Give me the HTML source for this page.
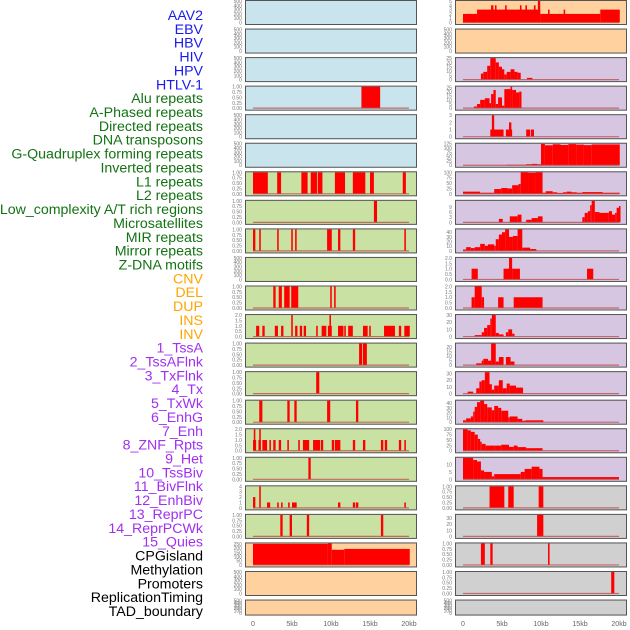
<!DOCTYPE html>
<html><head><meta charset="utf-8"><style>
html,body{margin:0;padding:0;background:#fff;}
svg{display:block;font-family:"Liberation Sans",sans-serif;}
</style></head><body>
<svg id="chart" width="630" height="630" viewBox="0 0 630 630"></svg>
<script>
const trackLabels = ["AAV2","EBV","HBV","HIV","HPV","HTLV-1","Alu repeats","A-Phased repeats","Directed repeats","DNA transposons","G-Quadruplex forming repeats","Inverted repeats","L1 repeats","L2 repeats","Low_complexity A/T rich regions","Microsatellites","MIR repeats","Mirror repeats","Z-DNA motifs","CNV","DEL","DUP","INS","INV","1_TssA","2_TssAFlnk","3_TxFlnk","4_Tx","5_TxWk","6_EnhG","7_Enh","8_ZNF_Rpts","9_Het","10_TssBiv","11_BivFlnk","12_EnhBiv","13_ReprPC","14_ReprPCWk","15_Quies","CPGisland","Methylation","Promoters","ReplicationTiming","TAD_boundary"];
const labelGroupSizes = [6,13,5,15,5];
const labelGroupColors = ["#1a1aee","#137313","#ffa500","#a030f0","#000000"];
const xTickKb = [0,5,10,15,20];
const xTickLabels = ["0","5kb","10kb","15kb","20kb"];
const E = [0,100,200,300,400,500];
const Q = [0,0.25,0.5,0.75,1];
const leftBg = ["b","b","b","b","b","b","g","g","g","g","g","g","g","g","g","g","g","g","g","o","o","o"];
const rightBg = ["o","o","p","p","p","p","p","p","p","p","p","p","p","p","p","p","p","k","k","k","k","k"];
const leftTicks = [E,E,E,Q,E,E,Q,Q,Q,E,Q,[0,0.5,1,1.5,2],Q,Q,Q,[0,0.5,1,1.5,2],Q,[0,1,2,3,4],Q,[0,50,100,150,200,250],E,E];
const leftMax = [500,500,500,1,500,500,1,1,1,500,1,2,1,1,1,2,1,4,1,255,500,500];
const leftSegs = [
 [],[],[],
 [[13.9,16.3,1]],
 [],[],
 [[0,1.9,1],[3.1,3.6,1],[6.2,7.0,1],[7.4,8.2,1],[8.3,8.9,1],[10.5,11.8,1],[12.8,14.4,1],[15.0,15.5,1],[19.2,19.6,1]],
 [[15.5,15.9,1]],
 [[0,0.3,1],[0.8,1.0,1],[3.1,3.3,1],[4.9,5.1,1],[5.4,5.6,1],[9.5,10.1,1],[10.9,11.2,1],[12.8,13.1,1],[19.4,19.6,1]],
 [],
 [[2.6,2.9,1],[3.3,3.7,1],[4.0,4.7,1],[4.9,5.8,1],[9.9,10.1,1],[10.4,10.6,1]],
 [[0.4,0.8,1],[1.2,1.5,1],[2.8,3.2,1],[3.6,3.9,1],[4.9,5.1,2],[5.4,5.7,1],[6.0,6.3,1],[6.5,6.8,1],[8.1,8.3,1],[8.8,9.4,1],[9.6,10.1,1],[9.8,10.0,2],[10.9,11.6,1],[11.7,11.9,1],[12.2,12.8,1],[14.1,14.7,1],[14.9,15.1,1],[16.8,18.2,1],[18.7,19.0,1],[19.4,20.1,1]],
 [[13.6,14.0,1],[14.1,14.6,1]],
 [[8.1,8.5,1]],
 [[0.8,1.2,1],[4.4,4.7,1],[5.3,5.6,1],[9.5,9.9,1],[13.2,13.5,1]],
 [[0,0.4,1],[0.1,0.3,2],[0.7,1.0,1],[0.8,1.0,2],[1.2,1.8,1],[2.1,2.3,1],[2.6,2.9,1],[3.3,3.6,1],[4.4,4.6,1],[5.8,6.0,1],[6.4,7.2,1],[7.7,8.6,1],[8.7,9.0,1],[10.1,10.4,1],[10.5,11.2,1],[12.8,13.1,1],[14.1,14.4,1],[16.4,16.7,1],[16.9,17.2,1],[18.7,19.0,1],[19.4,19.6,1]],
 [[7.1,7.4,1]],
 [[0,0.3,2],[0.8,1.0,4],[1.8,2.2,1],[3.1,3.3,1],[3.6,3.8,1],[4.5,4.7,1],[5.0,5.6,1],[10.9,11.2,1],[12.8,13.1,1],[13.2,13.5,1],[19.4,19.6,1]],
 [[3.5,3.8,1],[4.7,5.0,1],[6.9,7.2,1],[16.4,16.7,1]],
 [[0,9.6,250],[9.6,10.1,255],[10.1,11.7,180],[11.7,20.1,190]],
 [],[]
];
const rightTicks = [[0,1,2,3,4,5],E,[0,5,10,15,20,25],[0,5,10,15,20,25],[0,1,2,3],[0,25,50,75,100,125],[0,25,50,75,100],[0,3,6,9],[0,10,20,30,40],[0,0.5,1,1.5,2],[0,0.5,1,1.5,2],[0,10,20,30],[0,5,10,15,20],[0,10,20,30],[0,10,20,30,40],[0,25,50,75,100],[0,5,10],Q,[0,10,20,30],Q,Q,E];
const rightMax = [5,500,25,26,3,125,100,12.5,46,2,2,30,24,32,45,100,14.5,1,35,1,1,500];
const rightSegs = [
 [[0,1.8,2],[1.8,9.9,3],[3.6,3.9,4],[4.1,4.3,4],[5.4,5.6,4],[7.3,7.5,4],[8.0,8.2,4],[9.1,9.3,4],[9.6,9.9,5],[9.9,17.6,2],[10.9,11.1,3],[12.9,13.1,3],[17.6,20.1,3]],
 [],
 [[2.3,2.6,7],[2.6,3.1,9],[3.1,3.5,16],[3.5,4.2,25],[4.2,4.6,20],[4.6,5.0,15],[5.0,5.3,12],[5.3,5.6,6],[5.6,6.1,9],[6.1,6.6,12],[6.6,7.0,9],[7.0,7.4,8],[8.2,8.9,2]],
 [[1.4,1.8,2],[1.8,2.2,5],[2.2,2.8,10],[2.8,3.4,12],[3.4,3.6,6],[3.6,3.9,17],[3.9,4.2,22],[4.2,4.5,5],[4.5,5.0,13],[5.0,5.3,3],[5.3,6.1,23],[6.1,6.3,26],[6.3,6.8,22],[6.8,7.2,19],[7.2,7.5,20]],
 [[3.5,3.9,1],[3.7,4.0,3],[3.9,5.2,1],[5.5,6.3,1],[5.9,6.2,2],[8.1,8.6,1],[8.7,9.1,1]],
 [[5.6,8.1,3],[8.1,8.8,6],[8.8,9.5,8],[9.5,10,6],[10,10.5,124],[10.5,11.5,116],[11.5,12.5,122],[12.5,13.5,118],[13.5,14.5,123],[14.5,15.5,120],[15.5,16.5,117],[16.5,17.5,121],[17.5,20.1,121]],
 [[0,2.2,10],[2.2,4.0,5],[4.0,4.9,22],[4.9,5.7,27],[5.7,6.3,25],[6.3,7.1,40],[7.1,7.4,45],[7.4,8.4,100],[8.4,9.3,98],[9.3,10.2,100],[10.2,10.6,5],[10.6,11.5,12],[11.5,12.1,7],[12.1,12.8,4],[12.8,13.3,7],[13.3,13.9,10],[13.9,14.6,7],[14.6,15.3,5],[15.3,17.9,8],[17.9,20.1,5]],
 [[4.6,5.1,2],[6.0,7.0,3.5],[7.0,7.5,4.5],[8.1,8.8,1.5],[8.8,9.6,2.5],[9.6,10.2,3.5],[15.3,15.6,3],[15.6,16.0,5.5],[16.0,16.3,6.5],[16.3,16.5,10],[16.5,16.9,12.5],[16.9,17.5,6],[17.5,18.7,5.5],[18.7,19.1,6.5],[19.1,19.5,4.5],[19.5,19.7,5.5],[19.7,20.0,8.5],[20.0,20.1,9.5]],
 [[0,0.4,3],[0.4,1.0,8],[1.0,1.5,6],[1.5,2.2,8],[2.2,2.8,15],[2.8,3.2,11],[3.2,4.0,14],[4.0,4.2,11],[4.2,4.6,25],[4.6,5.0,35],[5.0,5.4,40],[5.4,5.9,46],[5.9,6.4,30],[6.4,7.0,32],[7.0,7.6,46],[7.6,8.6,7],[8.6,9.4,4]],
 [[1.1,1.9,1],[5.2,6.0,1],[5.9,6.3,2],[6.3,7.3,1],[15.9,16.7,1]],
 [[1.1,1.5,1],[1.5,2.4,2],[2.4,2.7,1],[4.5,5.2,1],[6.5,10.2,1]],
 [[1.5,2.4,2],[2.4,2.7,6],[2.7,3.1,12],[3.1,3.5,16],[3.5,3.7,25],[3.7,4.2,30],[4.2,4.6,5],[4.6,5.2,3],[5.5,5.8,6],[5.8,6.3,10],[6.3,6.6,4]],
 [[1.7,2.4,2],[2.4,2.6,5],[2.6,3.2,7],[3.2,3.6,5],[3.6,4.2,24],[4.2,4.6,4],[4.6,5.2,9],[5.5,6.1,9],[6.1,6.6,4]],
 [[0.6,1.3,3],[1.7,2.1,8],[2.1,2.4,18],[2.4,2.8,20],[2.8,3.4,32],[3.4,3.7,14],[3.7,4.0,6],[4.0,4.6,12],[4.6,5.1,20],[5.1,5.6,8],[5.6,6.0,15],[6.0,6.8,12],[6.8,7.7,9]],
 [[0,0.4,4],[0.4,1.0,8],[1.0,1.3,12],[1.3,1.5,22],[1.5,1.8,32],[1.8,2.2,42],[2.2,2.7,45],[2.7,3.1,38],[3.1,3.7,31],[3.7,4.0,25],[4.0,4.5,34],[4.5,4.9,30],[4.9,5.8,24],[5.8,6.0,10],[6.0,7.0,12],[7.0,7.6,7],[7.6,8.0,3],[8.0,10.3,4]],
 [[0,0.6,100],[0.6,1.0,95],[1.0,1.5,88],[1.5,1.9,75],[1.9,2.2,55],[2.2,2.4,42],[2.4,2.9,32],[2.9,4.0,24],[4.0,4.9,24],[4.9,5.9,28],[5.9,6.5,18],[6.5,7.0,24],[7.0,8.1,17],[8.1,10.2,12]],
 [[0,1.3,14.5],[1.3,1.8,13],[1.8,2.3,12],[2.3,2.7,6],[2.7,3.7,5],[3.7,4.0,2],[4.0,7.4,3.5],[7.4,7.9,5],[7.9,8.8,7],[8.8,9.8,8.5],[9.8,10.2,7],[10.2,20.0,1.5]],
 [[3.4,5.3,1],[5.8,6.5,1],[9.7,10.3,1]],
 [[9.5,10.3,35]],
 [[2.3,2.8,1],[3.5,3.8,1],[10.9,11.1,1]],
 [[19.0,19.4,1]],
 []
];

const NS = "http://www.w3.org/2000/svg";
const svg = document.getElementById('chart');
function mk(tag, attrs, parent){ const el=document.createElementNS(NS,tag); for(const k in attrs) el.setAttribute(k,attrs[k]); (parent||svg).appendChild(el); return el; }
const bgColors = {b:"#c9e4ec",g:"#c9e1a3",o:"#fed19e",p:"#d6c6e2",k:"#d0d0d0"};
const rowTop = i => i*28.55;
const rowH = i => i===21 ? 16 : 25;
const colX = [245, 455];
const panelW = 172;
function xScale(col, kb){ return colX[col] + 8 + kb*7.8; }
function yScale(i, v, max){ const b=rowTop(i)+rowH(i)-2.5, t=rowTop(i)+1; return b-(Math.min(v,max)/max)*(b-t); }

function drawColumn(col, bgs, ticks, maxes, segs){
  for(let i=0;i<22;i++){
    const g = mk('g',{});
    
    
    const top=rowTop(i), h=rowH(i);
    mk('rect',{x:colX[col],y:top,width:panelW,height:h,fill:bgColors[bgs[i]]},g);
    const max=maxes[i];
    ticks[i].forEach(tv=>{
      const t=mk('text',{x:colX[col]-3,y:yScale(i,tv,max)+2,'font-size':5.6,fill:'#777','text-anchor':'end','textLength':null},g);
      t.removeAttribute('textLength');
      t.setAttribute('transform','translate('+(colX[col]-3)+',0) scale(0.9,1) translate('+(-(colX[col]-3))+',0)');
      
      
      t.textContent = (max<=2 && ticks[i][ticks[i].length-1]===1)? tv.toFixed(2) : (max<=2.5? tv.toFixed(1): String(tv));
    });
    segs[i].forEach(s=>{
      const x1=xScale(col,s[0]), x2=xScale(col,s[1]);
      const y=yScale(i,s[2],max), yb=yScale(i,0,max);
      const r=mk('rect',{x:x1,y:y,width:Math.max(1.5,x2-x1),height:yb-y,fill:'#ff0000'},g);
      
      
    });
    if(segs[i].length){
      const l=mk('line',{x1:xScale(col,0),x2:xScale(col,20),y1:yScale(i,0,max),y2:yScale(i,0,max),stroke:'#c05050','stroke-width':1.2,opacity:0.8},g);
      
      
    }
    mk('rect',{x:colX[col]+0.5,y:top+0.5,width:panelW-1,height:h-1,fill:'none',stroke:'#555','stroke-width':1},g);
  }
  xTickKb.forEach((kb,j)=>{
    const t=mk('text',{x:xScale(col,kb),y:626,'font-size':7,fill:'#666','text-anchor':'middle'});
    
    
    t.textContent=xTickLabels[j];
  });
}
drawColumn(0,leftBg,leftTicks,leftMax,leftSegs);
drawColumn(1,rightBg,rightTicks,rightMax,rightSegs);

let idx=0;
labelGroupSizes.forEach((n,gi)=>{
  for(let k=0;k<n;k++){
    const t=mk('text',{x:203,y:20+idx*13.86,'font-size':14.2,fill:labelGroupColors[gi],'text-anchor':'end'});
    
    
    t.textContent=trackLabels[idx];
    idx++;
  }
});
</script>
</body></html>
